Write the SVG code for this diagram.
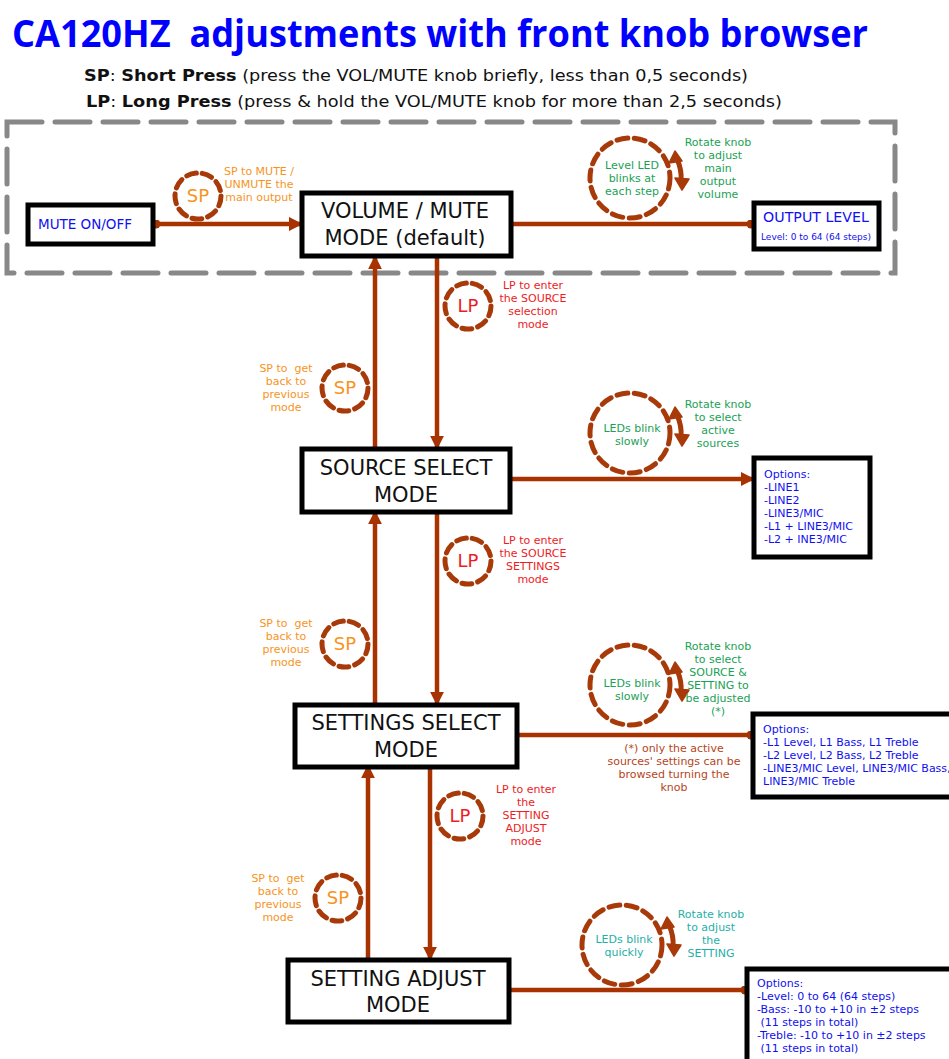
<svg xmlns="http://www.w3.org/2000/svg" width="949" height="1059" viewBox="0 0 949 1059">
<defs>
<style>
.box{fill:#fff;stroke:#000;stroke-width:5;}
.bt{font-family:"DejaVu Sans",Verdana,sans-serif;font-size:21px;fill:#111;text-anchor:middle;}
.conn{stroke:#A83200;stroke-width:4.5;fill:none;}
.knob{fill:none;stroke:#A83A0A;stroke-width:5;stroke-linecap:round;}
.sm{font-family:"DejaVu Sans",Verdana,sans-serif;font-size:11px;text-anchor:middle;}
.org{fill:#F7941D;}
.red{fill:#ED1C24;}
.grn{fill:#1BA155;}
.teal{fill:#1FAFA8;}
.brn{fill:#B5451B;}
.blu{font-family:"DejaVu Sans",Verdana,sans-serif;font-size:11px;fill:#1010F0;}
.b13{font-size:13.5px;}
.b15{font-size:14.2px;text-anchor:middle;}
.b8{font-size:9px;text-anchor:middle;}
.big{font-size:18px;}
.rot{stroke:#A83A0A;stroke-width:5;fill:none;stroke-linecap:round;}
.rh{fill:#A83A0A;stroke:#A83A0A;stroke-width:1.5;stroke-linejoin:round;}
</style>
<marker id="arr" viewBox="0 0 10 10" refX="8" refY="5" markerWidth="14" markerHeight="14" markerUnits="userSpaceOnUse" orient="auto"><path d="M0,0 L10,5 L0,10 Z" fill="#A83200"/></marker>
<marker id="dot" viewBox="0 0 10 10" refX="5" refY="5" markerWidth="9" markerHeight="9" markerUnits="userSpaceOnUse"><circle cx="5" cy="5" r="5" fill="#A83200"/></marker>
<g id="rotarrow">
<path class="rot" d="M-2,-12 Q3,-1 2,10"/>
<path class="rh" d="M-4,-20 L-10,-8 L3,-10 Z"/>
<path class="rh" d="M3,19 L-4,7 L10,8 Z"/>
</g>
</defs>
<rect width="949" height="1059" fill="#fff"/>

<text x="12" y="47" font-family="'Open Sans',sans-serif" font-weight="bold" font-size="38" fill="#0000FF" textLength="856" lengthAdjust="spacingAndGlyphs" xml:space="preserve">CA120HZ  adjustments with front knob browser</text>
<text x="84" y="81" font-family="'DejaVu Sans',Verdana,sans-serif" font-size="16" fill="#111" textLength="664" lengthAdjust="spacingAndGlyphs"><tspan font-weight="bold">SP</tspan>: <tspan font-weight="bold">Short Press</tspan> (press the VOL/MUTE knob briefly, less than 0,5 seconds)</text>
<text x="86" y="107" font-family="'DejaVu Sans',Verdana,sans-serif" font-size="16" fill="#111" textLength="696" lengthAdjust="spacingAndGlyphs"><tspan font-weight="bold">LP</tspan>: <tspan font-weight="bold">Long Press</tspan> (press &amp; hold the VOL/MUTE knob for more than 2,5 seconds)</text>

<rect id="group-frame" x="7" y="122" width="888" height="151" fill="none" stroke="#888" stroke-width="5" stroke-dasharray="35 13" stroke-linecap="round"/>

<g id="connectors">
<line class="conn" x1="156" y1="224" x2="300" y2="224" marker-start="url(#dot)" marker-end="url(#arr)"/>
<line class="conn" x1="511" y1="224" x2="751" y2="224" marker-end="url(#dot)"/>
<line class="conn" x1="375" y1="449" x2="375" y2="258" marker-end="url(#arr)"/>
<line class="conn" x1="437" y1="256" x2="437" y2="447" marker-end="url(#arr)"/>
<line class="conn" x1="510" y1="479" x2="752" y2="479" marker-end="url(#arr)"/>
<line class="conn" x1="375" y1="705" x2="375" y2="513" marker-end="url(#arr)"/>
<line class="conn" x1="437" y1="510" x2="437" y2="703" marker-end="url(#arr)"/>
<line class="conn" x1="517" y1="735" x2="751" y2="735" marker-end="url(#dot)"/>
<line class="conn" x1="368" y1="960" x2="368" y2="767" marker-end="url(#arr)"/>
<line class="conn" x1="430" y1="765" x2="430" y2="958" marker-end="url(#arr)"/>
<line class="conn" x1="509" y1="990" x2="745" y2="990" marker-end="url(#dot)"/>
</g>

<g id="mute">
<rect class="box" x="28" y="205" width="125" height="39"/>
<text class="blu b13" x="38" y="229">MUTE ON/OFF</text>
</g>

<g id="volume">
<rect class="box" x="302" y="193" width="209" height="63"/>
<text class="bt" x="405" y="218">VOLUME / MUTE</text>
<text class="bt" x="405" y="245">MODE (default)</text>
</g>

<g id="output">
<rect class="box" x="754" y="203" width="125" height="46"/>
<text class="blu b15" x="816" y="222">OUTPUT LEVEL</text>
<text class="blu b8" x="816" y="240">Level: 0 to 64 (64 steps)</text>
</g>

<g id="source">
<rect class="box" x="302" y="449" width="208" height="63"/>
<text class="bt" x="406" y="475">SOURCE SELECT</text>
<text class="bt" x="406" y="502">MODE</text>
</g>

<g id="settings">
<rect class="box" x="295" y="705" width="222" height="62"/>
<text class="bt" x="406" y="730">SETTINGS SELECT</text>
<text class="bt" x="406" y="757">MODE</text>
</g>

<g id="adjust">
<rect class="box" x="288" y="960" width="221" height="62"/>
<text class="bt" x="398" y="986">SETTING ADJUST</text>
<text class="bt" x="398" y="1012">MODE</text>
</g>

<g id="opts1">
<rect class="box" x="754" y="458" width="116" height="99"/>
<text class="blu" x="764" y="478">Options:</text>
<text class="blu" x="764" y="491">-LINE1</text>
<text class="blu" x="764" y="504">-LINE2</text>
<text class="blu" x="764" y="517">-LINE3/MIC</text>
<text class="blu" x="764" y="530">-L1 + LINE3/MIC</text>
<text class="blu" x="764" y="543">-L2 + INE3/MIC</text>
</g>

<g id="opts2">
<rect class="box" x="753" y="714" width="205" height="83"/>
<text class="blu" x="763" y="733">Options:</text>
<text class="blu" x="763" y="746">-L1 Level, L1 Bass, L1 Treble</text>
<text class="blu" x="763" y="759">-L2 Level, L2 Bass, L2 Treble</text>
<text class="blu" x="763" y="772">-LINE3/MIC Level, LINE3/MIC Bass,</text>
<text class="blu" x="763" y="785">LINE3/MIC Treble</text>
</g>

<g id="opts3">
<rect class="box" x="747" y="969" width="215" height="100"/>
<text class="blu" x="757" y="987">Options:</text>
<text class="blu" x="757" y="1000">-Level: 0 to 64 (64 steps)</text>
<text class="blu" x="757" y="1013">-Bass: -10 to +10 in ±2 steps</text>
<text class="blu" x="757" y="1026" xml:space="preserve"> (11 steps in total)</text>
<text class="blu" x="757" y="1039">-Treble: -10 to +10 in ±2 steps</text>
<text class="blu" x="757" y="1052" xml:space="preserve"> (11 steps in total)</text>
</g>

<g id="sp-mute">
<circle class="knob" cx="198" cy="196" r="23" stroke-dasharray="10 6"/>
<text class="sm org big" x="198" y="202">SP</text>
<text class="sm org" x="259" y="175">SP to MUTE /</text>
<text class="sm org" x="259" y="188">UNMUTE the</text>
<text class="sm org" x="259" y="201">main output</text>
</g>

<g id="knob-volume">
<circle class="knob" cx="630" cy="178" r="40" stroke-dasharray="11 6.5"/>
<use href="#rotarrow" x="679" y="171"/>
<text class="sm grn" x="632" y="169">Level LED</text>
<text class="sm grn" x="632" y="182">blinks at</text>
<text class="sm grn" x="632" y="195">each step</text>
<text class="sm grn" x="718" y="146">Rotate knob</text>
<text class="sm grn" x="718" y="159">to adjust</text>
<text class="sm grn" x="718" y="172">main</text>
<text class="sm grn" x="718" y="185">output</text>
<text class="sm grn" x="718" y="198">volume</text>
</g>

<g id="lp-1">
<circle class="knob" cx="468" cy="306" r="23" stroke-dasharray="10 6"/>
<text class="sm red big" x="468" y="312">LP</text>
<text class="sm red" x="533" y="289">LP to enter</text>
<text class="sm red" x="533" y="302">the SOURCE</text>
<text class="sm red" x="533" y="315">selection</text>
<text class="sm red" x="533" y="328">mode</text>
</g>

<g id="sp-1">
<circle class="knob" cx="345" cy="388" r="23" stroke-dasharray="10 6"/>
<text class="sm org big" x="345" y="394">SP</text>
<text class="sm org" x="286" y="372" xml:space="preserve">SP to  get</text>
<text class="sm org" x="286" y="385">back to</text>
<text class="sm org" x="286" y="398">previous</text>
<text class="sm org" x="286" y="411">mode</text>
</g>

<g id="knob-source">
<circle class="knob" cx="630" cy="433" r="40" stroke-dasharray="11 6.5"/>
<use href="#rotarrow" x="679" y="427"/>
<text class="sm grn" x="632" y="432">LEDs blink</text>
<text class="sm grn" x="632" y="445">slowly</text>
<text class="sm grn" x="718" y="408">Rotate knob</text>
<text class="sm grn" x="718" y="421">to select</text>
<text class="sm grn" x="718" y="434">active</text>
<text class="sm grn" x="718" y="447">sources</text>
</g>

<g id="lp-2">
<circle class="knob" cx="468" cy="561" r="23" stroke-dasharray="10 6"/>
<text class="sm red big" x="468" y="567">LP</text>
<text class="sm red" x="533" y="544">LP to enter</text>
<text class="sm red" x="533" y="557">the SOURCE</text>
<text class="sm red" x="533" y="570">SETTINGS</text>
<text class="sm red" x="533" y="583">mode</text>
</g>

<g id="sp-2">
<circle class="knob" cx="345" cy="644" r="23" stroke-dasharray="10 6"/>
<text class="sm org big" x="345" y="650">SP</text>
<text class="sm org" x="286" y="627" xml:space="preserve">SP to  get</text>
<text class="sm org" x="286" y="640">back to</text>
<text class="sm org" x="286" y="653">previous</text>
<text class="sm org" x="286" y="666">mode</text>
</g>

<g id="knob-settings">
<circle class="knob" cx="630" cy="685" r="40" stroke-dasharray="11 6.5"/>
<use href="#rotarrow" x="679" y="682"/>
<text class="sm grn" x="632" y="687">LEDs blink</text>
<text class="sm grn" x="632" y="700">slowly</text>
<text class="sm grn" x="718" y="650">Rotate knob</text>
<text class="sm grn" x="718" y="663">to select</text>
<text class="sm grn" x="718" y="676">SOURCE &amp;</text>
<text class="sm grn" x="718" y="689">SETTING to</text>
<text class="sm grn" x="718" y="702">be adjusted</text>
<text class="sm grn" x="718" y="715">(*)</text>
<text class="sm brn" x="674" y="752">(*) only the active</text>
<text class="sm brn" x="674" y="765">sources' settings can be</text>
<text class="sm brn" x="674" y="778">browsed turning the</text>
<text class="sm brn" x="674" y="791">knob</text>
</g>

<g id="lp-3">
<circle class="knob" cx="460" cy="816" r="23" stroke-dasharray="10 6"/>
<text class="sm red big" x="460" y="822">LP</text>
<text class="sm red" x="526" y="793">LP to enter</text>
<text class="sm red" x="526" y="806">the</text>
<text class="sm red" x="526" y="819">SETTING</text>
<text class="sm red" x="526" y="832">ADJUST</text>
<text class="sm red" x="526" y="845">mode</text>
</g>

<g id="sp-3">
<circle class="knob" cx="338" cy="898" r="23" stroke-dasharray="10 6"/>
<text class="sm org big" x="338" y="904">SP</text>
<text class="sm org" x="278" y="882" xml:space="preserve">SP to  get</text>
<text class="sm org" x="278" y="895">back to</text>
<text class="sm org" x="278" y="908">previous</text>
<text class="sm org" x="278" y="921">mode</text>
</g>

<g id="knob-adjust">
<circle class="knob" cx="622" cy="945" r="40" stroke-dasharray="11 6.5"/>
<use href="#rotarrow" x="671" y="937"/>
<text class="sm teal" x="624" y="943">LEDs blink</text>
<text class="sm teal" x="624" y="956">quickly</text>
<text class="sm teal" x="711" y="918">Rotate knob</text>
<text class="sm teal" x="711" y="931">to adjust</text>
<text class="sm teal" x="711" y="944">the</text>
<text class="sm teal" x="711" y="957">SETTING</text>
</g>
</svg>
